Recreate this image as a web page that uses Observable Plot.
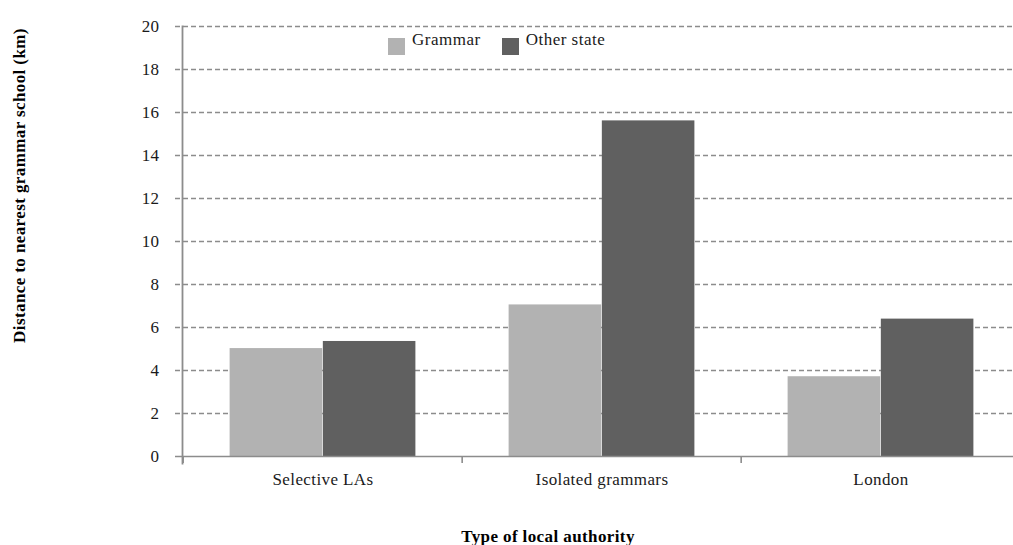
<!DOCTYPE html>
<html>
<head>
<meta charset="utf-8">
<script src="https://cdn.jsdelivr.net/npm/d3@7"></script>
<script src="https://cdn.jsdelivr.net/npm/@observablehq/plot@0.6"></script>
<style>
  body { margin: 0; background: #fff; }
  #vis { position: relative; width: 1013px; height: 545px; overflow: hidden; font-family: "Liberation Serif", serif; }
  #vis svg text { letter-spacing: 0.4px; }
  .legend { position: absolute; top: 36px; left: 388px; display: flex; align-items: center; font-size: 17px; letter-spacing: 0.5px; color: #1a1a1a; }
  .legend span.sw { display: inline-block; width: 17px; height: 17px; margin-right: 7px; }
  .legend span.item { display: flex; align-items: center; margin-right: 21px; }
  .legend span.lbl { position: relative; top: -6px; }
</style>
</head>
<body>
<div id="vis"></div>
<script>
// datos
const categories = ["Selective LAs", "Isolated grammars", "London"];
const series = ["Grammar", "Other state"];
const grammar = [5.02, 7.05, 3.71];
const otherState = [5.35, 15.61, 6.39];
const yTicks = [0, 2, 4, 6, 8, 10, 12, 14, 16, 18, 20];
const colors = ["#b2b2b2", "#606060"];
const yTitle = "Distance to nearest grammar school (km)";
const xTitle = "Type of local authority";

const grammarRows = categories.map((c, i) => ({category: c, series: series[0], value: grammar[i]}));
const otherRows = categories.map((c, i) => ({category: c, series: series[1], value: otherState[i]}));

const xRange = [182, 1021];
const bw = (xRange[1] - xRange[0]) / categories.length;
const axisColor = "#8c8c8c";

let chart = Plot.plot({
  width: 1013,
  height: 545,
  marginTop: 26,
  marginBottom: 89,
  marginLeft: 182,
  marginRight: 0,
  x: {domain: categories, range: xRange, padding: 0, label: null},
  y: {domain: [0, 20], label: null},
  style: {fontFamily: "Liberation Serif, serif", fontSize: "17px", color: "#1a1a1a", overflow: "visible"},
  marks: [
    // grilla punteada
    Plot.ruleY(yTicks.filter(d => d > 0), {stroke: axisColor, strokeWidth: 1.3, strokeDasharray: "5,3", insetLeft: -7}),
    Plot.barY(grammarRows, {x: "category", y: "value", fill: colors[0], insetLeft: bw / 6, insetRight: bw / 2}),
    Plot.barY(otherRows, {x: "category", y: "value", fill: colors[1], insetLeft: bw / 2, insetRight: bw / 6}),
    Plot.ruleY([0], {stroke: axisColor, strokeWidth: 1.6, insetLeft: -7}),
    Plot.frame({anchor: "left", stroke: axisColor, strokeWidth: 1.8, insetBottom: -7}),
    Plot.axisY({ticks: yTicks, tickSize: 0, tickPadding: 23, label: null}),
    Plot.axisX({tickSize: 0, tickPadding: 16, label: null}),
    // marcas entre categorias
    Plot.axisX({tickSize: 7, text: null, label: null, dx: -bw / 2, stroke: axisColor, strokeWidth: 1.6}),
    Plot.text([yTitle], {frameAnchor: "left", textAnchor: "middle", lineAnchor: "middle", rotate: -90, dx: -163, dy: -56, fontWeight: "bold", fontSize: 17, fill: "#000"}),
    Plot.text([xTitle], {frameAnchor: "bottom", lineAnchor: "middle", dx: -50, dy: 80, fontWeight: "bold", fontSize: 17, fill: "#000"})
  ]
})

const vis = d3.select('#vis')
vis.append(() => chart)

const legend = vis.append('div').attr('class', 'legend')
series.forEach((s, i) => {
  const item = legend.append('span').attr('class', 'item')
  item.append('span').attr('class', 'sw').style('background', colors[i])
  item.append('span').attr('class', 'lbl').text(s)
})
</script>
</body>
</html>
